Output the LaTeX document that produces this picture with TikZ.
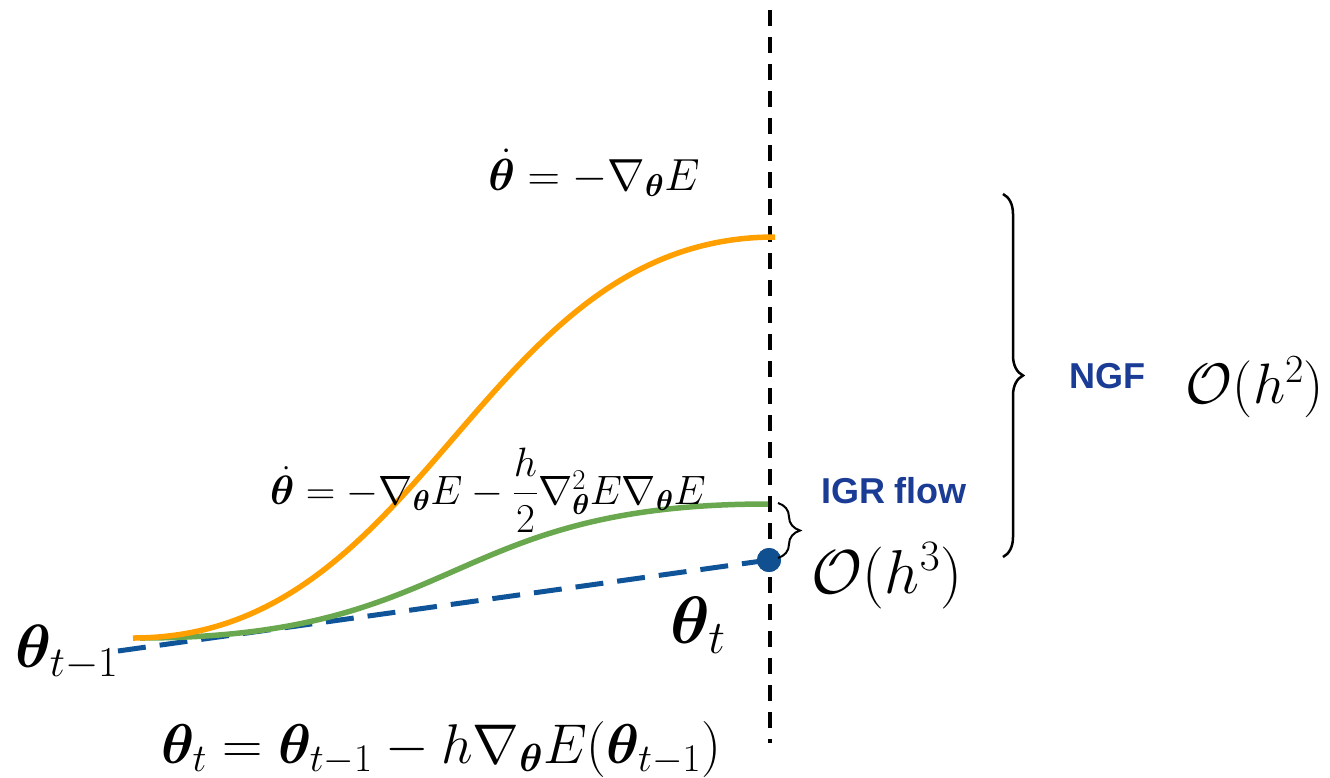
\RequirePackage{fix-cm}
\documentclass[tikz,border=0pt]{standalone}
\usepackage{amsmath,bm}
\usepackage{fontspec}
\newfontfamily\arialfont{Liberation Sans}
\usetikzlibrary{decorations.pathreplacing}
\definecolor{orangeC}{RGB}{255,160,0}
\definecolor{greenC}{RGB}{106,168,79}
\definecolor{blueC}{RGB}{15,84,153}
\definecolor{dotC}{RGB}{16,80,145}
\definecolor{labelC}{RGB}{26,60,149}
\tikzset{
  vline/.style={line width=4pt, dash pattern=on 15.5pt off 11.5pt},
  flowline/.style={line width=5.5pt},
  stepline/.style={line width=5pt, color=blueC, dash pattern=on 28pt off 14pt},
  bracebig/.style={decorate, decoration={brace, amplitude=20pt}, line width=2.5pt},
  bracesmall/.style={decorate, decoration={brace, amplitude=22pt}, line width=2pt},
  mathlbl/.style={inner sep=0pt, anchor=base},
  sanslbl/.style={inner sep=0pt, anchor=base, text=labelC, font=\arialfont\bfseries\fontsize{36}{40}\selectfont},
}
\begin{document}
\begin{tikzpicture}[x=1pt,y=-1pt]
\useasboundingbox (0,0) rectangle (1330,777);
% vertical dashed line
\coordinate (vtop) at (770,10);
\coordinate (vbot) at (770,743);
\draw[vline] (vtop) -- (vbot);
% curve endpoints
\coordinate (ostart) at (133,638);
\coordinate (oend) at (775,237);
\coordinate (gstart) at (140,638);
\coordinate (gend) at (768,504);
\coordinate (bstart) at (118,651);
\node[circle, fill=dotC, minimum size=24pt, inner sep=0pt] (dot) at (769,560) {};
% discrete step (blue dashed)
\draw[stepline] (bstart) -- (dot.center);
% IGR flow (green)
\draw[flowline, greenC] (gstart) .. controls (463,638) and (445,504) .. (gend);
% NGF (orange)
\draw[flowline, orangeC] (ostart) .. controls (429,638) and (479,237) .. (oend);
\node[circle, fill=dotC, minimum size=24pt, inner sep=0pt] at (dot) {};
% braces
\coordinate (bbtop) at (1003,194);
\coordinate (bbbot) at (1003,557);
\draw[bracebig] (bbtop) -- (bbbot);
\coordinate (sbtop) at (778,503);
\coordinate (sbbot) at (778,558);
\draw[bracesmall] (sbtop) -- (sbbot);
% labels
\node[mathlbl, font=\fontsize{45}{54}\selectfont] (eqtop) at (594,190) {$\dot{\bm{\theta}} = -\nabla_{\bm\theta} E$};
\node[mathlbl, font=\fontsize{41}{48}\selectfont] (eqmid) at (488,504) {$\dot{\bm{\theta}} = -\nabla_{\bm\theta} E - \dfrac{h}{2}\nabla^2_{\bm\theta} E \nabla_{\bm\theta} E$};
\node[mathlbl, font=\fontsize{56}{62}\selectfont] (eqbot) at (441,763) {$\bm\theta_t = \bm\theta_{t-1} - h\nabla_{\bm\theta}E(\bm\theta_{t-1})$};
\node[mathlbl, font=\fontsize{61}{66}\selectfont] (thprev) at (67,667) {$\bm\theta_{t-1}$};
\node[mathlbl, font=\fontsize{67}{72}\selectfont] (thcur) at (698,643) {$\bm\theta_{t}$};
\node[sanslbl] (ngf) at (1107,388) {NGF};
\node[mathlbl, font=\fontsize{57}{62}\selectfont] (oh2) at (1255,403) {$\mathcal{O}(h^2)$};
\node[sanslbl] (igr) at (894,503) {IGR flow};
\node[mathlbl, font=\fontsize{62}{66}\selectfont] (oh3) at (887,593) {$\mathcal{O}(h^3)$};
\end{tikzpicture}
\end{document}
